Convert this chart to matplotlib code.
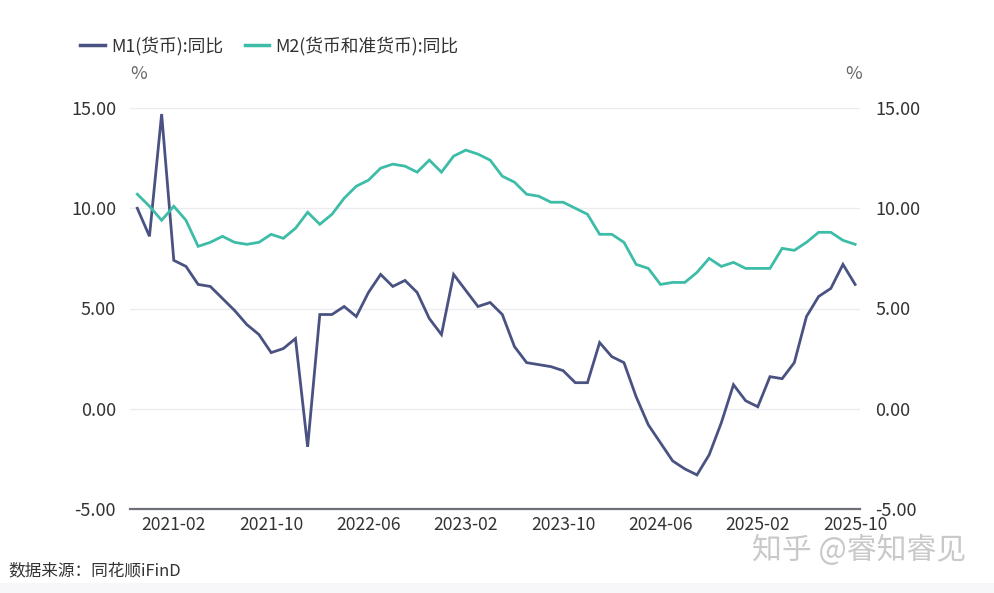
import matplotlib
matplotlib.use("Agg")
import matplotlib.pyplot as plt
from matplotlib.lines import Line2D
from matplotlib.patches import Rectangle

plt.rcParams['font.family'] = ['Noto Sans CJK SC', 'DejaVu Sans']

# monthly data 2020-11 .. 2025-10
months = []
y, m = 2020, 11
for _ in range(60):
    months.append(f'{y}-{m:02d}')
    m += 1
    if m > 12:
        y, m = y + 1, 1

m1 = [10.0, 8.6, 14.7, 7.4, 7.1, 6.2, 6.1, 5.5, 4.9, 4.2,
      3.7, 2.8, 3.0, 3.5, -1.9, 4.7, 4.7, 5.1, 4.6, 5.8,
      6.7, 6.1, 6.4, 5.8, 4.5, 3.7, 6.7, 5.9, 5.1, 5.3,
      4.7, 3.1, 2.3, 2.2, 2.1, 1.9, 1.3, 1.3, 3.3, 2.6,
      2.3, 0.6, -0.8, -1.7, -2.6, -3.0, -3.3, -2.3, -0.7, 1.2,
      0.4, 0.1, 1.6, 1.5, 2.3, 4.6, 5.6, 6.0, 7.2, 6.2]
m2 = [10.7, 10.1, 9.4, 10.1, 9.4, 8.1, 8.3, 8.6, 8.3, 8.2,
      8.3, 8.7, 8.5, 9.0, 9.8, 9.2, 9.7, 10.5, 11.1, 11.4,
      12.0, 12.2, 12.1, 11.8, 12.4, 11.8, 12.6, 12.9, 12.7, 12.4,
      11.6, 11.3, 10.7, 10.6, 10.3, 10.3, 10.0, 9.7, 8.7, 8.7,
      8.3, 7.2, 7.0, 6.2, 6.3, 6.3, 6.8, 7.5, 7.1, 7.3,
      7.0, 7.0, 7.0, 8.0, 7.9, 8.3, 8.8, 8.8, 8.4, 8.2]

tick_labels = ['2021-02', '2021-10', '2022-06', '2023-02',
               '2023-10', '2024-06', '2025-02', '2025-10']
y_ticks = [-5, 0, 5, 10, 15]

c_m1 = '#4a5282'
c_m2 = '#3dbca8'
txt = '#333333'

fig = plt.figure(figsize=(9.94, 5.93), dpi=100)
fig.patch.set_facecolor('white')

ax = fig.add_axes([130 / 994, (593 - 509) / 593, 730 / 994, 401 / 593])
x = list(range(len(months)))
ax.plot(x, m1, color=c_m1, lw=2.0, solid_joinstyle='miter', zorder=3)
ax.plot(x, m2, color=c_m2, lw=2.0, solid_joinstyle='miter', zorder=3)

ax.set_xlim(-0.6, 59.4)
ax.set_ylim(-5, 15)
ax.set_yticks(y_ticks)
ax.set_yticklabels([f'{v:.2f}' for v in y_ticks])
ax.set_xticks([months.index(t) for t in tick_labels])
ax.set_xticklabels(tick_labels)

for v in y_ticks[1:]:
    ax.axhline(v, color='#ebecf2', lw=1, zorder=1)
for s in ['top', 'right', 'left']:
    ax.spines[s].set_visible(False)
ax.spines['bottom'].set_color('#6e7079')
ax.spines['bottom'].set_linewidth(1.6)
ax.tick_params(axis='x', length=0, pad=5, labelsize=12.6, labelcolor=txt)
ax.tick_params(axis='y', length=0, pad=10, labelsize=13, labelcolor=txt)

ax2 = ax.twinx()
ax2.set_ylim(ax.get_ylim())
ax2.set_yticks(y_ticks)
ax2.set_yticklabels([f'{v:.2f}' for v in y_ticks])
ax2.tick_params(axis='y', length=0, pad=11, labelsize=13, labelcolor=txt)
for s in ax2.spines.values():
    s.set_visible(False)

fig.text(139 / 994, 1 - 74 / 593, '%', fontsize=13, color='#666666',
         ha='center', va='center')
fig.text(854 / 994, 1 - 74 / 593, '%', fontsize=13, color='#666666',
         ha='center', va='center')

# legend
handles = [Line2D([], [], color=c_m1, lw=2.5),
           Line2D([], [], color=c_m2, lw=2.5)]
fig.legend(handles, ['M1(货币):同比', 'M2(货币和准货币):同比'],
           loc='center left', bbox_to_anchor=(64 / 994, 1 - 46 / 593),
           ncol=2, frameon=False, fontsize=12.8, handlelength=1.4,
           handletextpad=0.35, columnspacing=1.2, labelcolor=txt)

fig.text(8 / 994, 1 - 571 / 593, '数据来源：同花顺iFinD', fontsize=12,
         color=txt, ha='left', va='center')
fig.text(752 / 994, 1 - 550 / 593, '知乎 @睿知睿见', fontsize=21.5,
         color='#c9c9c9', ha='left', va='center')

fig.patches.append(Rectangle((0, 0), 1, 10 / 593, transform=fig.transFigure,
                             facecolor='#f7f7f9', edgecolor='none', zorder=0))

fig.savefig('out.png', dpi=100)
